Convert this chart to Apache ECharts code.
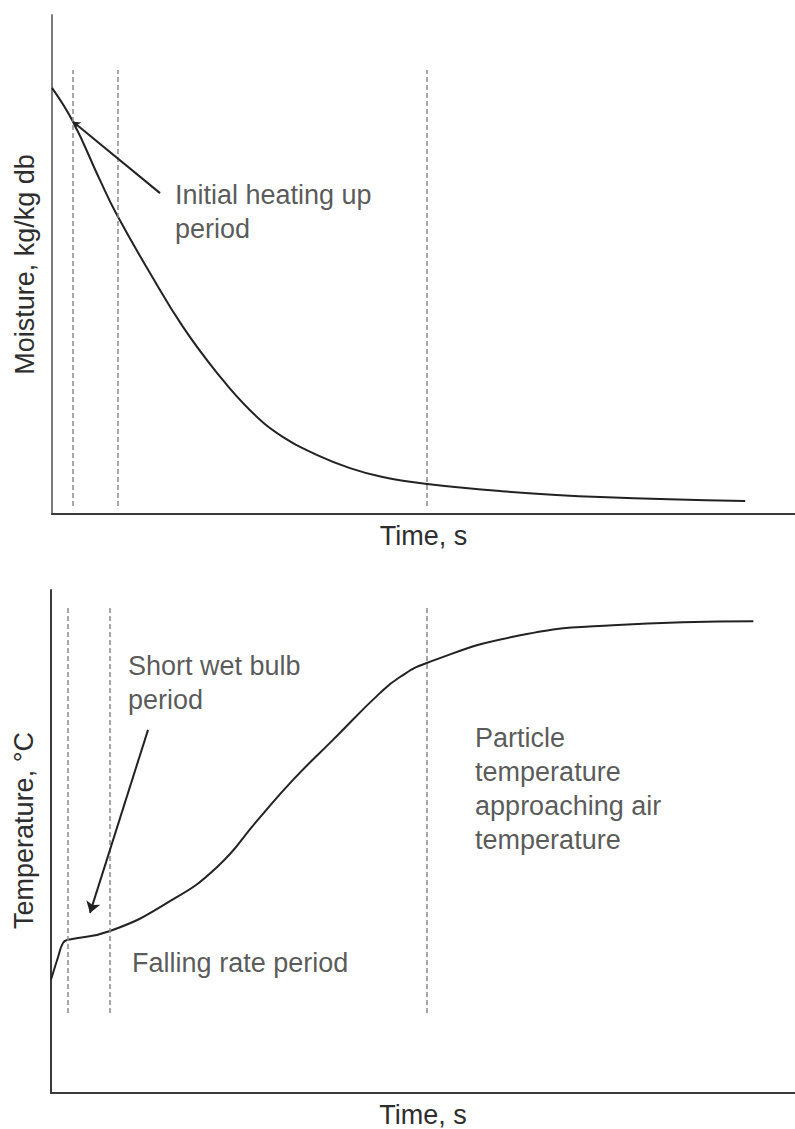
<!DOCTYPE html>
<html>
<head>
<meta charset="utf-8">
<script src="https://cdn.jsdelivr.net/npm/echarts@6/dist/echarts.min.js"></script>
<style>
html,body{margin:0;padding:0;background:#fff;}
#chart{width:795px;height:1129px;}
</style>
</head>
<body>
<div id="chart"></div>
<script>
// ---- Data (arbitrary time / value units) ----
const moistTime  = [0, 2.83, 6.46, 8.75, 13.19, 17.63, 22.2, 26.65, 31.1, 35.7, 40.1, 44.5, 50.5, 60.3, 73.8, 93.3];
const moistValue = [85.4, 78.6, 66.9, 59.9, 48.3, 37.5, 28.3, 20.8, 15.4, 11.8, 9.2, 7.4, 6.0, 4.6, 3.4, 2.6];

const tempTime  = [0, 0.94, 1.6, 2.15, 7.93, 15.6, 22.3, 27.8, 32.5, 37.9, 44.2, 46.9, 50.5, 62.1, 75.5, 94.4];
const tempValue = [22.5, 27.0, 29.8, 30.4, 32.2, 37.8, 44.9, 54.3, 62.2, 70.2, 79.5, 82.7, 85.5, 90.7, 93.0, 93.8];

const topDividers = [2.83, 8.88, 50.47];
const topDividerRange = [1.6, 89];
const bottomDividers = [2.28, 7.93, 50.5];
const bottomDividerRange = [15.9, 96.8];

// annotation pointers: [fromX, fromY, toX, toY]
const topPointer = [14.54, 64.3, 2.83, 78.6];
const bottomPointer = [13.04, 72.2, 5.24, 35.8];

// annotation texts: [x, y, text]
const topNotes = [[16.55, 67.3, 'Initial heating up\nperiod']];
const bottomNotes = [
  [10.35, 88.3, 'Short wet bulb\nperiod'],
  [10.9, 29.2, 'Falling rate period'],
  [57.0, 74.0, 'Particle\ntemperature\napproaching air\ntemperature']
];

const xName = 'Time, s';
const topYName = 'Moisture, kg/kg db';
const bottomYName = 'Temperature, \u00B0C';

// ---- Chart ----
const FONT = 'Liberation Sans, Arial, Helvetica, sans-serif';
const TXT = '#2e2e2e';
const chart = echarts.init(document.getElementById('chart'), null, {renderer: 'svg'});

function zip(a, b) { return a.map((v, i) => [v, b[i]]); }
function dividerLines(xs, r) {
  return xs.map(x => [{coord: [x, r[0]]}, {coord: [x, r[1]]}]);
}
function axisX(grid) {
  return {
    type: 'value', gridIndex: grid, min: 0, max: 100,
    axisLine: {show: true, onZero: false, lineStyle: {color: '#3a3a3a', width: 2}},
    axisTick: {show: false}, axisLabel: {show: false}, splitLine: {show: false},
    name: xName, nameLocation: 'middle', nameGap: 8,
    nameTextStyle: {fontFamily: FONT, fontSize: 27, color: TXT, verticalAlign: 'top'}
  };
}
function axisY(grid, name, color, pad) {
  return {
    type: 'value', gridIndex: grid, min: 0, max: 100,
    axisLine: {show: true, onZero: false, lineStyle: {color: color, width: 2}},
    axisTick: {show: false}, axisLabel: {show: false}, splitLine: {show: false},
    name: name, nameLocation: 'middle', nameGap: 14,
    nameTextStyle: {fontFamily: FONT, fontSize: 27, color: TXT, padding: pad}
  };
}
function noteSeries(xi, notes) {
  return {
    type: 'scatter', xAxisIndex: xi, yAxisIndex: xi, symbolSize: 0, silent: true,
    data: notes.map(n => ({value: [n[0], n[1]], name: n[2]})),
    label: {
      show: true, position: [0, 0], align: 'left', verticalAlign: 'top',
      formatter: p => p.name, fontFamily: FONT, fontSize: 27, lineHeight: 34, color: TXT
    }
  };
}
function pointerSeries(xi, p, arrowSize) {
  return {
    type: 'line', xAxisIndex: xi, yAxisIndex: xi, data: [], silent: true,
    markLine: {
      silent: true, symbol: ['none', 'arrow'], symbolSize: arrowSize,
      label: {show: false},
      lineStyle: {color: '#222', width: 2, type: 'solid'},
      data: [[{coord: [p[0], p[1]]}, {coord: [p[2], p[3]]}]]
    }
  };
}

const option = {
  backgroundColor: '#fff',
  animation: false,
  grid: [
    {left: 52, right: 0, top: 15, height: 499},
    {left: 51, right: 0, top: 590, height: 503}
  ],
  xAxis: [axisX(0), axisX(1)],
  yAxis: [axisY(0, topYName, '#7a7a7a', 0), axisY(1, bottomYName, '#3a3a3a', [0, 0, 0, 22])],
  series: [
    {
      type: 'line', xAxisIndex: 0, yAxisIndex: 0, data: zip(moistTime, moistValue),
      smooth: 0.45, showSymbol: false, silent: true,
      lineStyle: {color: '#222', width: 2},
      markLine: {
        silent: true, symbol: ['none', 'none'], label: {show: false},
        lineStyle: {color: '#8a8a8a', width: 1.5, type: [5, 3]},
        data: dividerLines(topDividers, topDividerRange)
      }
    },
    {
      type: 'line', xAxisIndex: 1, yAxisIndex: 1, data: zip(tempTime, tempValue),
      smooth: 0.5, showSymbol: false, silent: true,
      lineStyle: {color: '#222', width: 2},
      markLine: {
        silent: true, symbol: ['none', 'none'], label: {show: false},
        lineStyle: {color: '#8a8a8a', width: 1.5, type: [5, 3]},
        data: dividerLines(bottomDividers, bottomDividerRange)
      }
    },
    pointerSeries(0, topPointer, 7),
    pointerSeries(1, bottomPointer, 11),
    noteSeries(0, topNotes),
    noteSeries(1, bottomNotes)
  ]
};
chart.setOption(option);
</script>
</body>
</html>
